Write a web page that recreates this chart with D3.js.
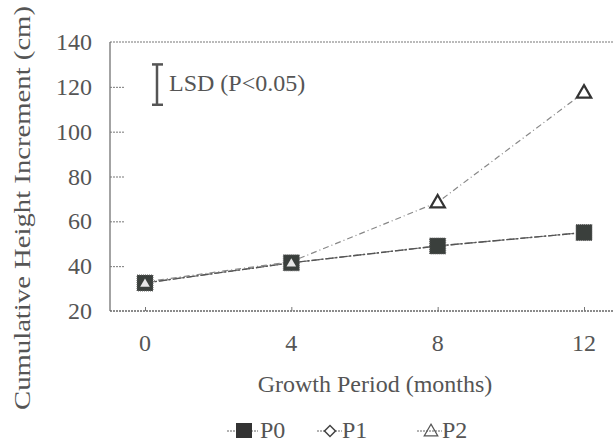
<!DOCTYPE html>
<html>
<head>
<meta charset="utf-8">
<script src="https://cdn.jsdelivr.net/npm/d3@7"></script>
<style>
  body { margin: 0; background: #fff; }
</style>
</head>
<body>
<div id="chart"></div>
<script>
// growth period in months
var months = [0, 4, 8, 12];
var p0 = [32.5, 41.5, 49, 55];
var p1 = [32.5, 41.5, 49, 55];
var p2 = [33, 42, 68.5, 117.5];
var yTicks = [20, 40, 60, 80, 100, 120, 140];
var lsd = [112, 130]; // LSD bar shown on the value scale

var width = 613, height = 443;
var plotLeft = 110, plotTop = 42, plotRight = 613, plotBottom = 311;

var svg = d3.select("#chart").append("svg")
    .attr("width", width)
    .attr("height", height)
    .attr("font-family", "Liberation Serif");

var x = d3.scaleLinear().domain([0, 12]).range([145, 584]);
var y = d3.scaleLinear().domain([20, 140]).range([plotBottom, plotTop]);

function label(sel) {
    return sel.attr("font-family", "Liberation Serif").attr("fill", "#555").attr("font-size", 24);
}

// frame, dotted top and bottom
svg.append("line").attr("x1", plotLeft).attr("x2", plotRight).attr("y1", plotTop).attr("y2", plotTop)
    .attr("stroke", "#777").attr("stroke-dasharray", "2,1").attr("stroke-width", 1.2);
svg.append("line").attr("x1", plotLeft).attr("x2", plotRight).attr("y1", plotBottom).attr("y2", plotBottom)
    .attr("stroke", "#666").attr("stroke-dasharray", "2,1").attr("stroke-width", 1.4);
svg.append("line").attr("x1", plotLeft).attr("x2", plotLeft).attr("y1", plotTop).attr("y2", plotBottom)
    .attr("stroke", "#666").attr("stroke-width", 1.2);

// y axis
var yAxis = svg.append("g")
    .attr("transform", "translate(" + plotLeft + ",0)")
    .call(d3.axisRight(y).tickValues(yTicks).tickSize(15).tickFormat(""));
yAxis.select(".domain").remove();
yAxis.selectAll("line").attr("stroke", "#777").attr("stroke-dasharray", "2,1");
yAxis.selectAll(".tick").filter(function(d) { return d == 20 || d == 140; }).remove();

svg.selectAll(".ylab").data(yTicks).enter().append("text")
    .attr("class", "ylab")
    .attr("x", 92)
    .attr("y", function(d) { return y(d) + 8; })
    .attr("text-anchor", "end")
    .call(label)
    .text(function(d) { return d; });

// x ticks
var xAxis = svg.append("g")
    .attr("transform", "translate(0," + plotBottom + ")")
    .call(d3.axisTop(x).tickValues(months).tickSize(4).tickFormat(""));
xAxis.select(".domain").remove();
xAxis.selectAll("line").attr("stroke", "#777");

svg.selectAll(".xlab").data(months).enter().append("text")
    .attr("class", "xlab")
    .attr("x", function(d) { return x(d); })
    .attr("y", 351)
    .attr("text-anchor", "middle")
    .call(label)
    .text(function(d) { return d; });

svg.append("text")
    .attr("x", 375).attr("y", 392)
    .attr("text-anchor", "middle")
    .call(label)
    .text("Growth Period (months)");

svg.append("text")
    .attr("transform", "translate(30,208) rotate(-90)")
    .attr("text-anchor", "middle")
    .attr("textLength", 404)
    .attr("lengthAdjust", "spacingAndGlyphs")
    .call(label)
    .text("Cumulative Height Increment (cm)");

// LSD bar
var g = svg.append("g").attr("stroke", "#555").attr("stroke-width", 2.5);
g.append("line").attr("x1", 157).attr("x2", 157).attr("y1", y(lsd[0])).attr("y2", y(lsd[1]));
g.append("line").attr("x1", 152).attr("x2", 163).attr("y1", y(lsd[0])).attr("y2", y(lsd[0]));
g.append("line").attr("x1", 152).attr("x2", 163).attr("y1", y(lsd[1])).attr("y2", y(lsd[1]));
svg.append("text")
    .attr("x", 169).attr("y", 91)
    .call(label)
    .text("LSD (P<0.05)");

// lines
var line = d3.line()
    .x(function(d, i) { return x(months[i]); })
    .y(function(d) { return y(d); });

svg.append("path").datum(p1).attr("d", line)
    .attr("fill", "none").attr("stroke", "#777").attr("stroke-width", 1.2)
    .attr("stroke-dasharray", "5,2");
svg.append("path").datum(p0).attr("d", line)
    .attr("fill", "none").attr("stroke", "#555").attr("stroke-width", 1.4)
    .attr("stroke-dasharray", "8,2,2,2");
svg.append("path").datum(p2).attr("d", line)
    .attr("fill", "none").attr("stroke", "#888").attr("stroke-width", 1.2)
    .attr("stroke-dasharray", "6,3,1,3");

var sym = d3.symbol();

// P1 diamonds (hidden under P0 squares)
svg.selectAll(".p1").data(p1).enter().append("path")
    .attr("transform", function(d, i) { return "translate(" + x(months[i]) + "," + y(d) + ") rotate(45)"; })
    .attr("d", sym.type(d3.symbolSquare).size(100))
    .attr("fill", "#fff").attr("stroke", "#444").attr("stroke-width", 1.5);

// P0 squares
svg.selectAll(".p0").data(p0).enter().append("rect")
    .attr("x", function(d, i) { return x(months[i]) - 8; })
    .attr("y", function(d) { return y(d) - 8; })
    .attr("width", 16).attr("height", 16)
    .attr("fill", "#3a3f3c").attr("stroke", "#666").attr("stroke-dasharray", "1,1");

// P2 triangles (first two sit on top of the P0 squares)
svg.selectAll(".p2").data(p2).enter().append("path")
    .attr("transform", function(d, i) {
        var yy = (i < 2) ? y(p0[i]) : y(d);
        return "translate(" + x(months[i]) + "," + (yy + 1) + ")";
    })
    .attr("d", function(d, i) { return sym.type(d3.symbolTriangle).size(i < 2 ? 40 : 90)(); })
    .attr("fill", function(d, i) { return i < 2 ? "#e6e6e6" : "#fff"; })
    .attr("stroke", function(d, i) { return i < 2 ? "none" : "#333"; })
    .attr("stroke-width", 2.2);

// legend
var legend = svg.append("g");
legend.append("line").attr("x1", 227).attr("x2", 258).attr("y1", 431).attr("y2", 431)
    .attr("stroke", "#666").attr("stroke-dasharray", "2,1");
legend.append("rect").attr("x", 236).attr("y", 423).attr("width", 16).attr("height", 15)
    .attr("fill", "#333");
legend.append("text").attr("x", 260).attr("y", 438)
    .call(label).text("P0");

legend.append("line").attr("x1", 317).attr("x2", 342).attr("y1", 431).attr("y2", 431)
    .attr("stroke", "#666").attr("stroke-dasharray", "2,1");
legend.append("path").attr("transform", "translate(330,431) rotate(45)")
    .attr("d", sym.type(d3.symbolSquare).size(60))
    .attr("fill", "#fff").attr("stroke", "#444").attr("stroke-width", 1.5);
legend.append("text").attr("x", 342).attr("y", 438)
    .call(label).text("P1");

legend.append("line").attr("x1", 417).attr("x2", 442).attr("y1", 431).attr("y2", 431)
    .attr("stroke", "#666").attr("stroke-dasharray", "2,1");
legend.append("path").attr("transform", "translate(431,432)")
    .attr("d", sym.type(d3.symbolTriangle).size(80))
    .attr("fill", "none").attr("stroke", "#555").attr("stroke-width", 1.2);
legend.append("text").attr("x", 442).attr("y", 438)
    .call(label).text("P2");
</script>
</body>
</html>
